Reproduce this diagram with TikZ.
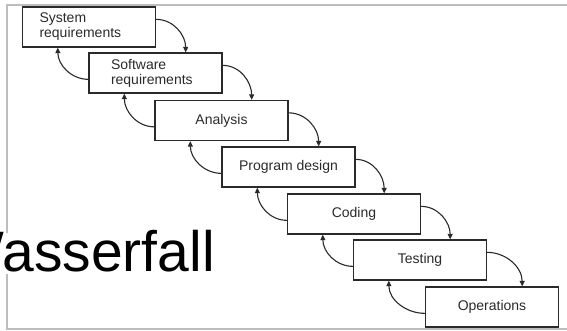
\documentclass[tikz,border=0pt]{standalone}
\usepackage{fontspec}
\setmainfont{Liberation Sans}
\usetikzlibrary{arrows.meta}
\definecolor{ink}{HTML}{2A2A2A}
\definecolor{framegray}{HTML}{BDBDBD}
\tikzset{
  stage/.style={draw=ink, line width=1.3pt, minimum width=133pt, minimum height=40pt,
    inner sep=0pt, text=ink, font=\fontsize{14}{15}\selectfont},
  twoline/.style={align=left, text width=#1},
  flow/.style={draw=ink, line width=1.1pt, -{Triangle[length=5.5pt,width=5pt]}},
}
\begin{document}
\begin{tikzpicture}[x=1pt,y=1pt]
\useasboundingbox (0,0) rectangle (567,330);
\clip (0,0) rectangle (567,330);
% slide frame
\draw[framegray, line width=1.2pt] (567,325) -- (7,325) -- (7,1) -- (567,1);
% title
\node[font=\fontsize{57}{60}\selectfont, fill=white, inner sep=0pt,
  text height=38pt, text depth=3pt, anchor=base east] (wf) at (215,59) {Wasserfall};
% waterfall stages
\node[stage, twoline=99pt, inner xsep=17pt] (b1) at (89,303) {System\\requirements};
\node[stage, twoline=89pt, inner xsep=22pt] (b2) at (155.5,257) {Software\\requirements};
\node[stage] (b3) at (221.5,209.5) {Analysis};
\node[stage] (b4) at (288.5,163) {Program design};
\node[stage] (b5) at (354,116) {Coding};
\node[stage] (b6) at (420,70) {Testing};
\node[stage] (b7) at (492,23) {Operations};
% forward and feedback arrows
\foreach \a/\b in {b1/b2,b2/b3,b3/b4,b4/b5,b5/b6,b6/b7}{
  \draw[flow] ([yshift=-13pt]\a.north east) to[out=0,in=90] ([xshift=-37pt]\b.north east);
  \draw[flow] ([yshift=-27pt]\b.north west) to[out=180,in=-90] ([xshift=36pt]\a.south west);
}
\end{tikzpicture}
\end{document}
